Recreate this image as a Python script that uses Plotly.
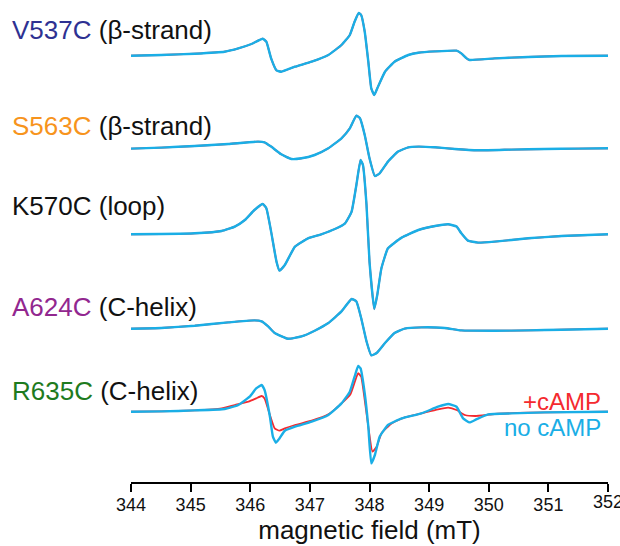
import plotly.graph_objects as go

# ---------------- data (field in mT, signal in arbitrary units) ----------------
labels = ["V537C", "S563C", "K570C", "A624C", "R635C"]
regions = ["(β-strand)", "(β-strand)", "(loop)", "(C-helix)", "(C-helix)"]
label_colors = ["#2E3192", "#F7941D", "#111111", "#92278F", "#1E7B1E"]
offsets = [426.3, 333.7, 247.7, 153.3, 70.3]

v537_b = [344.00, 344.51, 345.07, 345.57, 345.80, 346.02, 346.21, 346.27, 346.35, 346.44, 346.52,
          346.75, 347.03, 347.31, 347.53, 347.67, 347.75, 347.82, 347.86, 347.92, 347.98, 348.03,
          348.08, 348.13, 348.26, 348.42, 348.65, 348.82, 349.10, 349.46, 349.54, 349.63, 349.68,
          350.10, 350.66, 351.22, 352.00]
v537_s = [0, 0.7, 2, 4, 7.3, 11.7, 17, 14, -2.7, -14.7, -16,
          -11, -6, 0.7, 10.7, 20.7, 34, 42.7, 40.7, 24, -6, -32.7,
          -39.3, -32.7, -16, -6, 0.7, 3, 4.3, 5, 2.3, -2.7, -4.3,
          -2.7, -1.3, -0.3, 0]

s563_b = [344.00, 344.51, 345.07, 345.63, 346.13, 346.24, 346.35, 346.52, 346.69, 346.86, 347.08,
          347.31, 347.53, 347.67, 347.78, 347.84, 347.92, 348.00, 348.09, 348.17, 348.31, 348.48,
          348.65, 348.82, 349.10, 349.43, 349.82, 350.38, 350.94, 351.50, 352.00]
s563_s = [-0.3, 0.7, 2.3, 4.3, 6.7, 6, 1.7, -6, -10.7, -10, -6.7,
          0, 10, 20, 32.7, 30, 13.3, -10, -27.7, -25, -13.3, -3.3,
          1, 1.7, 1, -0.7, -2, -1.3, -0.7, -0.3, 0]

k570_b = [344.00, 344.51, 345.07, 345.52, 345.74, 345.91, 346.07, 346.21, 346.27, 346.35, 346.44,
          346.49, 346.58, 346.75, 346.97, 347.19, 347.42, 347.59, 347.70, 347.78, 347.85, 347.89,
          347.95, 348.00, 348.08, 348.13, 348.20, 348.31, 348.54, 348.82, 349.10, 349.32, 349.46,
          349.54, 349.65, 349.82, 350.10, 350.66, 351.22, 352.00]
k570_s = [0, 0.3, 1, 3.3, 7.7, 14.3, 24.3, 30.3, 26, 2.7, -27.3,
          -36.3, -30.7, -12.3, -4, 0, 5.3, 11, 22.7, 49.3, 74.3, 69.3,
          29.3, -27.3, -74.7, -60.7, -34, -14, -3.3, 4.3, 8.3, 10, 7.7,
          1, -6.3, -8.3, -7.3, -4, -1.7, 0]

a624_b = [344.00, 344.51, 345.07, 345.63, 346.07, 346.19, 346.30, 346.41, 346.63, 346.86, 347.08,
          347.31, 347.53, 347.70, 347.78, 347.86, 347.95, 348.03, 348.12, 348.26, 348.42, 348.59,
          348.87, 349.26, 349.54, 350.10, 350.66, 351.22, 352.00]
a624_s = [0, 0.7, 3, 6.3, 8.3, 7.3, 2.3, -4.3, -10, -7.7, -2,
          5.7, 17.3, 29.7, 27.3, 10.7, -12.7, -26.7, -24.3, -14.3, -4.3, 0,
          1.3, 0.7, -1.7, -2, -1.7, -1, 0]

r635_b_blue = [344.00, 344.51, 345.07, 345.57, 345.80, 345.99, 346.10, 346.19, 346.24, 346.33, 346.38,
               346.43, 346.49, 346.58, 346.75, 347.03, 347.31, 347.53, 347.67, 347.75, 347.81, 347.85,
               347.92, 347.98, 348.03, 348.09, 348.17, 348.31, 348.54, 348.87, 349.15, 349.32, 349.46,
               349.57, 349.68, 349.79, 349.99, 350.38, 350.94, 352.00]
r635_s_blue = [0, 0.3, 1.3, 2.7, 6.7, 15, 23.3, 26.7, 21.7, -5, -25,
               -31, -26.7, -19, -15, -10, -3.3, 8.3, 20, 35, 45.7, 43.3,
               18.3, -15, -51.7, -43.3, -25, -13.3, -6.7, -1.7, 5, 7.7, 5,
               -6.7, -10.7, -7.7, -2.7, -1.7, -0.7, 0]

r635_b_red = [344.00, 344.51, 345.07, 345.52, 345.74, 345.97, 346.10, 346.19, 346.24, 346.33, 346.41,
              346.49, 346.58, 346.75, 347.03, 347.31, 347.53, 347.68, 347.76, 347.81, 347.86, 347.92,
              347.98, 348.05, 348.12, 348.20, 348.37, 348.59, 348.87, 349.15, 349.32, 349.46, 349.60,
              349.77, 350.10, 350.66, 352.00]
r635_s_red = [0, 0.3, 1.3, 3.3, 6.7, 10, 13.3, 15.7, 13.3, -3.3, -16.7,
              -19, -16.7, -13.3, -9, -2.7, 8.3, 17.5, 31, 38.5, 35, 11.7,
              -15, -40, -35, -21.7, -11.7, -5.7, -1.7, 2.3, 4, 1.7, -3.3,
              -4.3, -2.3, -1, 0]

# (field_red, signal_red, field_blue, signal_blue) per sample
spectra = [
    (v537_b, v537_s, v537_b, v537_s),
    (s563_b, s563_s, s563_b, s563_s),
    (k570_b, k570_s, k570_b, k570_s),
    (a624_b, a624_s, a624_b, a624_s),
    (r635_b_red, r635_s_red, r635_b_blue, r635_s_blue),
]

x_ticks = [344, 345, 346, 347, 348, 349, 350, 351, 352]
legend_names = ["+cAMP", "no cAMP"]

RED = "#F42A2F"
BLUE = "#1AAEE6"
FONT = "Liberation Sans, Arial, sans-serif"

# ---------------- figure ----------------
fig = go.Figure()
for (br, sr, bb, sb), off in zip(spectra, offsets):
    fig.add_trace(go.Scatter(x=br, y=[v + off for v in sr], mode="lines",
                             line=dict(color=RED, width=1.8, shape="spline", smoothing=0.4),
                             showlegend=False, hoverinfo="skip", cliponaxis=False))
    fig.add_trace(go.Scatter(x=bb, y=[v + off for v in sb], mode="lines",
                             line=dict(color=BLUE, width=2.4, shape="spline", smoothing=0.4),
                             showlegend=False, hoverinfo="skip", cliponaxis=False))

label_y = [452.0, 356.3, 275.8, 175.0, 91.0]
ann = []
for name, reg, col, ly in zip(labels, regions, label_colors, label_y):
    ann.append(dict(xref="paper", yref="y", x=-0.2537, y=ly, xanchor="left", yanchor="middle",
                    showarrow=False,
                    text=f"<span style='color:{col}'>{name}</span> {reg}",
                    font=dict(family=FONT, size=26, color="#111111")))
ann.append(dict(xref="x", yref="y", x=351.92, y=81, xanchor="right", yanchor="middle",
                showarrow=False, text=legend_names[0], font=dict(family=FONT, size=24, color=RED)))
ann.append(dict(xref="x", yref="y", x=351.92, y=54.5, xanchor="right", yanchor="middle",
                showarrow=False, text=legend_names[1], font=dict(family=FONT, size=24, color=BLUE)))
# last tick label sits at the right edge (Plotly drops it automatically)
ann.append(dict(xref="x", yref="paper", x=x_ticks[-1], y=-0.0415, xanchor="center", yanchor="middle",
                showarrow=False, text=str(x_ticks[-1]),
                font=dict(family=FONT, size=18, color="#111111")))

fig.update_layout(
    width=620, height=546,
    margin=dict(l=131, r=12, t=0, b=64),
    paper_bgcolor="white", plot_bgcolor="white",
    annotations=ann,
    showlegend=False,
    xaxis=dict(range=[344, 352], tickvals=x_ticks, ticktext=[str(t) for t in x_ticks],
               showgrid=False, zeroline=False, showline=True, linecolor="black", linewidth=2,
               ticks="outside", ticklen=8, tickwidth=2, tickcolor="black",
               ticklabelstandoff=-3,
               tickfont=dict(family=FONT, size=18, color="#111111"),
               title=dict(text="magnetic field (mT)", font=dict(family=FONT, size=26, color="#111111"),
                          standoff=4)),
    yaxis=dict(range=[0, 482], visible=False, showgrid=False, zeroline=False),
)

fig.write_html("out.html", config={"displayModeBar": False},
               post_script="document.body.style.margin='0';document.body.style.padding='0';")
